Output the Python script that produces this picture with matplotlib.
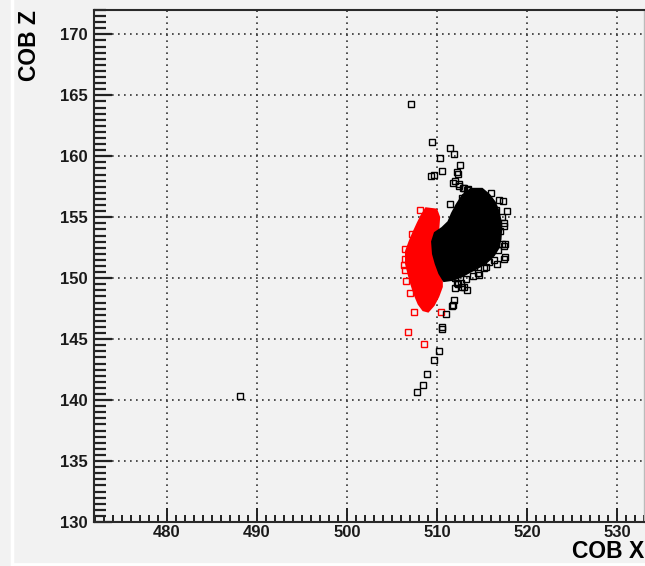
import matplotlib
matplotlib.use('Agg')
import matplotlib.pyplot as plt
from matplotlib.lines import Line2D
from matplotlib.ticker import MultipleLocator

# Scattered black points (COB X, COB Z)
black_x = [488.1, 507.1, 509.5, 511.5, 511.9, 510.3, 512.6, 510.6, 509.7, 509.3,
           512.2, 512.35, 512.0, 512.5, 513.0, 513.5, 511.8, 512.4, 512.9, 513.3,
           511.5, 512.8, 517.3, 517.8, 516.6, 517.5, 517.4, 517.0, 516.7, 517.2,
           517.6, 517.45, 517.6, 517.45, 516.8, 516.3, 516.7, 515.8, 515.2, 514.7,
           514.6, 514.1, 511.8, 512.0, 512.3, 512.8, 513.3, 512.7, 513.0, 512.2,
           512.0, 511.9, 511.7, 511.8, 511.0, 510.6, 510.6, 510.2, 509.7, 508.9,
           508.4, 507.8, 516.0, 516.9, 517.2, 515.4, 514.0, 513.2]
black_z = [140.35, 164.3, 161.2, 160.7, 160.2, 159.9, 159.3, 158.8, 158.5, 158.4,
           158.7, 158.55, 158.0, 157.7, 157.4, 157.3, 157.8, 157.6, 157.4, 157.2,
           156.1, 156.6, 156.3, 155.5, 155.6, 154.3, 154.5, 153.9, 153.4, 152.8,
           152.8, 152.65, 151.7, 151.55, 152.3, 151.5, 151.2, 151.3, 150.8, 150.3,
           150.4, 150.9, 154.2, 150.0, 149.5, 149.3, 149.0, 149.6, 149.3, 149.6,
           149.2, 148.2, 147.7, 147.8, 147.1, 146.0, 145.85, 144.0, 143.3, 142.1,
           141.2, 140.7, 157.0, 156.4, 155.0, 150.9, 150.2, 149.9]

# Scattered red points
red_x = [508.1, 506.4, 506.3, 506.5, 507.5, 506.8, 508.6, 510.4, 506.6, 507.0,
         506.4, 507.2]
red_z = [155.6, 150.7, 151.1, 151.6, 147.2, 145.6, 144.6, 147.2, 149.8, 148.8,
         152.4, 153.6]

# Outline of the dense black cloud
black_core_x = [513.8, 515.0, 515.8, 516.4, 516.8, 517.0, 517.1, 517.0, 516.8, 516.3,
                515.6, 514.8, 513.8, 512.8, 511.8, 510.8, 510.3, 509.9, 509.6, 509.5,
                509.8, 510.6, 511.3, 511.7, 512.2, 512.9]
black_core_z = [157.3, 157.3, 156.8, 156.2, 155.5, 154.8, 154.0, 153.2, 152.5, 151.9,
                151.4, 151.0, 150.6, 150.2, 149.9, 149.8, 150.4, 151.2, 152.0, 153.0,
                153.7, 154.1, 154.6, 155.3, 156.0, 156.8]

# Outline of the dense red cloud
red_core_x = [508.8, 509.9, 510.2, 510.1, 509.9, 510.0, 510.3, 510.5, 510.5, 510.1,
              509.6, 509.0, 508.5, 508.0, 507.6, 507.2, 506.9, 506.6, 506.6, 507.0,
              507.4, 507.9, 508.3]
red_core_z = [155.7, 155.6, 155.0, 154.0, 153.0, 152.0, 151.0, 150.0, 149.3, 148.5,
              147.8, 147.3, 147.4, 147.9, 148.6, 149.5, 150.3, 151.2, 152.2, 153.0,
              153.7, 154.5, 155.1]

bg = '#f2f2f2'
plt.rcParams['font.family'] = ['Liberation Sans', 'DejaVu Sans']
plt.rcParams['font.weight'] = 'bold'

fig = plt.figure(figsize=(6.45, 5.66), dpi=100, facecolor=bg)
ax = fig.add_axes([94/645, 1 - 522/566, (644 - 94)/645, (522 - 10)/566])
ax.set_facecolor(bg)

# Dense clouds (red underneath, black on top)
ax.fill(red_core_x, red_core_z, color='red', lw=2, ec='red', zorder=2)
ax.plot(red_x, red_z, 's', ms=4.3, mfc='none', mec='red', mew=1.0, zorder=3)
ax.fill(black_core_x, black_core_z, color='black', lw=2, ec='black', zorder=4)
ax.plot(black_x, black_z, 's', ms=4.3, mfc='none', mec='black', mew=1.0, zorder=5)

ax.set_xlim(471.9, 533.0)
ax.set_ylim(130, 172)
ax.xaxis.set_major_locator(MultipleLocator(10))
ax.xaxis.set_minor_locator(MultipleLocator(1))
ax.yaxis.set_major_locator(MultipleLocator(5))
ax.yaxis.set_minor_locator(MultipleLocator(0.5))

ax.grid(which='major', color='#333333', ls=(0, (1, 2.6)), lw=1.2)
ax.set_axisbelow(True)

ax.tick_params(axis='x', which='major', direction='in', length=10, width=1.4,
               color='#222222', labelsize=12, labelcolor='#1a1a1a', pad=2.5)
ax.tick_params(axis='x', which='minor', direction='in', length=5, width=1.4, color='#222222')
ax.tick_params(axis='y', which='major', direction='in', length=13, width=1.6,
               color='#222222', labelsize=12, labelcolor='#1a1a1a', pad=4.5)
ax.tick_params(axis='y', which='minor', direction='in', length=8.5, width=1.6, color='#222222')
for lab in ax.get_xticklabels() + ax.get_yticklabels():
    lab.set_fontweight('bold')

for side in ['left', 'bottom', 'top']:
    ax.spines[side].set_color('#2a2a2a')
    ax.spines[side].set_linewidth(1.5)
ax.spines['right'].set_color('#bbbbbb')
ax.spines['right'].set_linewidth(1.0)

ax.set_xlabel('COB X', loc='right', fontsize=16.5, fontweight='bold', labelpad=0)
ax.set_ylabel('COB Z', loc='top', fontsize=16.5, fontweight='bold', labelpad=14)

# light bevel edges of the canvas
fig.add_artist(Line2D([11.5/645, 11.5/645], [0, 1], color='white', lw=2.5))
fig.add_artist(Line2D([11.5/645, 1], [2.5/566, 2.5/566], color='white', lw=2))

fig.savefig('out.png', dpi=100, facecolor=bg)
